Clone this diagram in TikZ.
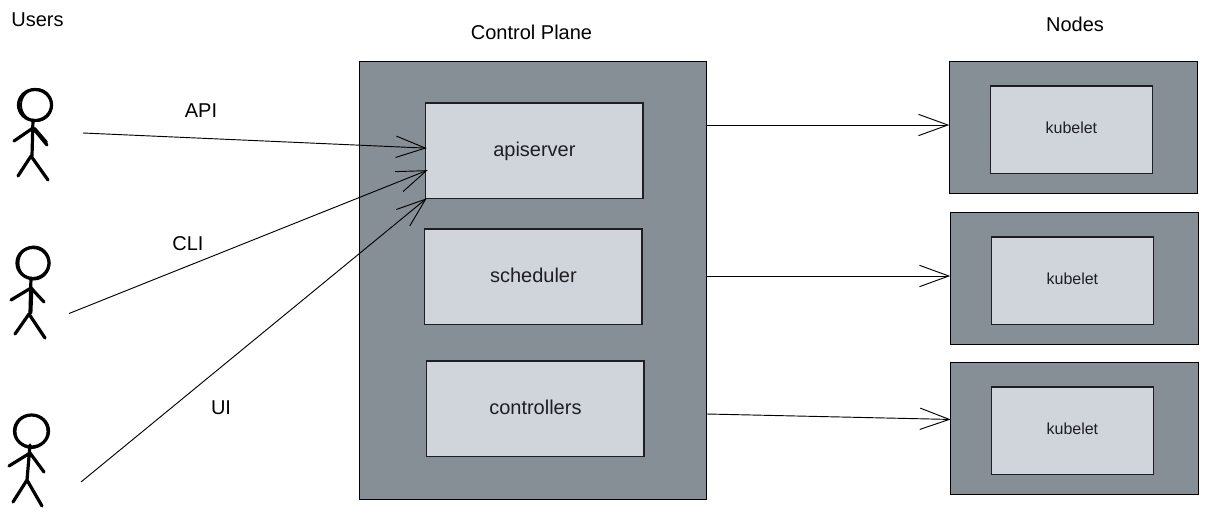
\documentclass[tikz,border=0pt]{standalone}
\usepackage{fontspec}
\setmainfont{Liberation Sans}
\usetikzlibrary{arrows.meta,calc}
\definecolor{outerc}{HTML}{878F96}
\definecolor{innerc}{HTML}{D0D4DB}
\definecolor{inkc}{HTML}{1E1F22}
\tikzset{
  x=0.75pt,y=-0.75pt,
  pxbox/.style={draw=black,line width=0.85pt,inner sep=0pt,outer sep=0pt,anchor=north west},
  outerbox/.style={pxbox,fill=outerc},
  innerbox/.style={pxbox,line width=1.05pt,draw=inkc,fill=innerc,text=inkc,font=\fontsize{15}{18}\selectfont,text height=12.2pt,text depth=3.2pt},
  smallbox/.style={pxbox,line width=1.05pt,draw=inkc,fill=innerc,text=inkc,font=\fontsize{12}{14}\selectfont,text height=9.6pt,text depth=3.2pt},
  label/.style={font=\fontsize{15}{18}\selectfont,inner sep=0pt,text=black},
  flow/.style={draw=black,line width=0.7pt,-{Straight Barb[length=22pt,width=16pt,line width=0.7pt]}},
  stick/.style={draw=black,line width=2.4pt,line cap=round,line join=round},
  sketch/.style={draw=black,line width=1.4pt,line cap=round,line join=round},
}
\begin{document}
\begin{tikzpicture}
\useasboundingbox (0,0) rectangle (1208,515);
% stick figures
\draw[stick] (35,105) ellipse [x radius=16.5,y radius=15.5];
\draw[sketch] (36.5,105) ellipse [x radius=15.5,y radius=16];
\draw[stick] (33,120) -- (32,156) (14,141) -- (33,128) -- (47,145) (18,176) -- (31,156) -- (48,180);
\draw[sketch] (35,128) -- (47,142);
\draw[stick] (33,263) ellipse [x radius=16,y radius=15.5];
\draw[sketch] (34,263) ellipse [x radius=15.5,y radius=16.5];
\draw[stick] (31,278) -- (30,313) (11,300) -- (31,288) -- (44,302) (15,334) -- (29,314) -- (45,338);
\draw[sketch] (32.5,288) -- (31.5,313);
\draw[stick] (31.5,431) ellipse [x radius=17,y radius=16];
\draw[sketch] (31.5,431.5) ellipse [x radius=16,y radius=16.5];
\draw[stick] (30,445) -- (27,480) (9,466) -- (30,453) -- (44,472) (13,502) -- (27,480) -- (42,506);
% boxes
\node[outerbox,minimum width=347*0.75pt,minimum height=438*0.75pt] (cp) at (359.3,61.5) {};
\node[innerbox,minimum width=217.4*0.75pt,minimum height=95.3*0.75pt] (api) at (425.7,103) {apiserver};
\node[innerbox,minimum width=217.4*0.75pt,minimum height=95.3*0.75pt] (sched) at (424.7,229) {scheduler};
\node[innerbox,minimum width=217.4*0.75pt,minimum height=95.3*0.75pt] (ctrl) at (426.7,361) {controllers};
\node[outerbox,minimum width=248*0.75pt,minimum height=131.7*0.75pt] (n1) at (949.2,61.6) {};
\node[outerbox,minimum width=248*0.75pt,minimum height=131.7*0.75pt] (n2) at (950.2,212.6) {};
\node[outerbox,minimum width=248*0.75pt,minimum height=131.7*0.75pt] (n3) at (950.2,362.6) {};
\node[smallbox,minimum width=162*0.75pt,minimum height=87.3*0.75pt] (k1) at (990.4,86) {kubelet};
\node[smallbox,minimum width=162*0.75pt,minimum height=87.3*0.75pt] (k2) at (991.4,237) {kubelet};
\node[smallbox,minimum width=162*0.75pt,minimum height=87.3*0.75pt] (k3) at (991.4,387) {kubelet};
% labels
\node[label] (users) at (37.5,20) {Users};
\node[label] (cptitle) at (531.5,32) {Control Plane};
\node[label] (nodes) at (1075,24) {Nodes};
\node[label] (lapi) at (201,111) {API};
\node[label] (lcli) at (188,244) {CLI};
\node[label] (lui) at (221,408) {UI};
% connector ends
\coordinate (u1) at (83,133);
\coordinate (u2) at (69,313.5);
\coordinate (u3) at (81,482);
\coordinate (c1) at (707,125);
\coordinate (c2) at (707,276);
\coordinate (c3) at (707,414);
\draw[flow] (u1) -- ($(api.west)+(1,-2.5)$);
\draw[flow] (u2) -- ($(api.west)+(2,19.5)$);
\draw[flow] (u3) -- ($(api.south west)+(1,0)$);
\draw[flow] (c1) -- (c1 -| n1.west);
\draw[flow] (c2) -- (c2 -| n2.west);
\draw[flow] (c3) -- ($(n3.west)+(0.5,-9)$);
\end{tikzpicture}
\end{document}
